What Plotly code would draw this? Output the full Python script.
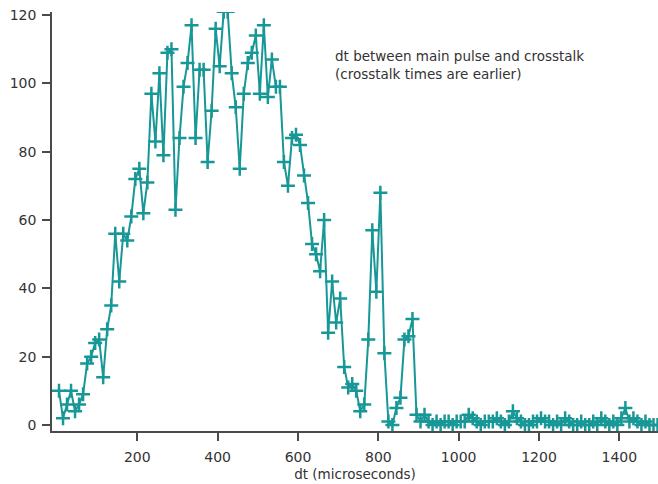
import plotly.graph_objects as go

# bin centres (microseconds) and counts
x_start = 5
bin_width = 10
counts_main = [
    10, 2, 6, 10, 4, 6, 9, 18, 20, 24,
    25, 14, 28, 35, 56, 42, 56, 54, 61, 72,
    75, 62, 71, 97, 83, 103, 79, 109, 110, 63,
    84, 99, 106, 117, 84, 104, 104, 77, 92, 116,
    105, 121, 121, 103, 93, 75, 97, 106, 109, 114,
    97, 117, 96, 107, 99, 99, 77, 70, 84, 85,
    82, 73, 65, 53, 50, 45, 60, 27, 42, 30,
    37, 17, 11, 12, 10, 4, 6, 25, 57, 39,
    68, 21, 1, 0, 5, 8, 25, 26, 31,
]
counts_tail = [
    3, 1, 3, 1, 0, 1, 0, 1, 1, 0,
    1, 1, 1, 3, 2, 1, 0, 1, 1, 1,
    2, 1, 0, 1, 4, 2, 1, 0, 0, 1,
    1, 2, 1, 1, 0, 1, 0, 2, 1, 0,
    0, 1, 0, 0, 1, 0, 2, 1, 0, 1,
    0, 2, 5, 1, 2, 1, 0, 1, 0, 0,
    0,
]
counts = counts_main + counts_tail
dt = [x_start + bin_width * i for i in range(len(counts))]

x_ticks = [200, 400, 600, 800, 1000, 1200, 1400]
y_ticks = [0, 20, 40, 60, 80, 100, 120]

teal = "#189797"
axis_col = "#4a4a4a"
font = "DejaVu Sans"
txt_col = "#333333"

fig = go.Figure()
fig.add_trace(go.Scatter(
    x=dt, y=counts, mode="lines+markers",
    line=dict(color=teal, width=2),
    marker=dict(symbol="cross-thin", size=10, color=teal,
                line=dict(color=teal, width=2.5)),
    showlegend=False,
))

fig.add_annotation(
    x=686, y=105.3, xref="x", yref="y",
    text="dt between main pulse and crosstalk<br>(crosstalk times are earlier)",
    showarrow=False, xanchor="left", yanchor="middle", align="left",
    font=dict(family=font, size=13.5, color=txt_col),
)

fig.update_layout(
    width=658, height=484,
    margin=dict(l=52, r=0, t=12, b=53),
    plot_bgcolor="white", paper_bgcolor="white",
    font=dict(family=font, size=14, color=txt_col),
    xaxis=dict(
        range=[-12.4, 1496.2], tickvals=x_ticks,
        showgrid=False, zeroline=False,
        showline=True, linecolor=axis_col, linewidth=1.5,
        ticks="outside", ticklen=8, tickcolor=axis_col, tickwidth=1.5,
        ticklabelstandoff=4,
        tickfont=dict(family=font, size=14, color=txt_col),
        title=dict(text="dt (microseconds)", standoff=6,
                   font=dict(family=font, size=13.5, color=txt_col)),
    ),
    yaxis=dict(
        range=[-1.76, 120.9], tickvals=y_ticks,
        showgrid=False, zeroline=False,
        showline=True, linecolor=axis_col, linewidth=1.5,
        ticks="outside", ticklen=8, tickcolor=axis_col, tickwidth=1.5,
        ticklabelstandoff=3,
        tickfont=dict(family=font, size=14, color=txt_col),
    ),
)

fig.write_html("out.html")
